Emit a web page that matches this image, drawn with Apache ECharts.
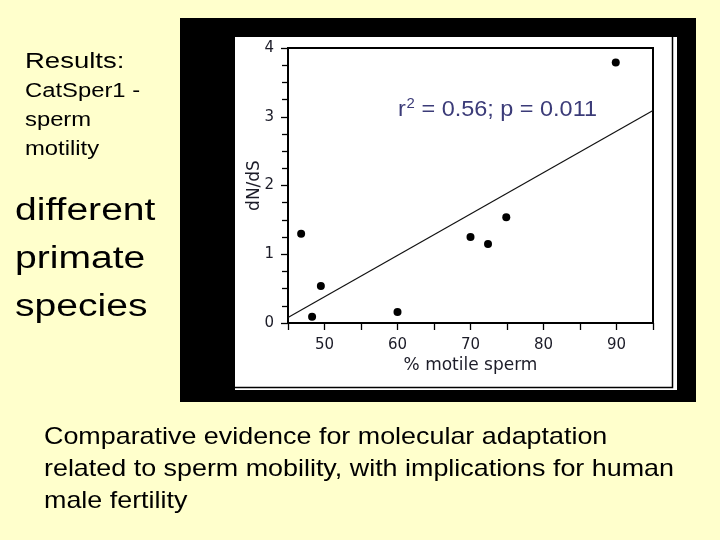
<!DOCTYPE html>
<html lang="en">
<head>
    <meta charset="UTF-8">
    <title>CatSper1 - sperm motility</title>
    <script src="https://cdn.jsdelivr.net/npm/echarts@6/dist/echarts.min.js"></script>
    <style>
        body { margin: 0; background-color: #FFFFCC; }
    </style>
</head>
<body>

<div id="main" style="width: 720px;height: 540px;"></div>

<script type="text/javascript">

    // % motile sperm vs dN/dS, one point per primate species
    var motility = [46.8, 48.3, 49.5, 60.0, 70.0, 72.4, 74.9, 89.9]
    var dnds = [1.30, 0.09, 0.54, 0.16, 1.25, 1.15, 1.54, 3.79]

    // regression line, read at both ends of the x axis
    var fitX = [45, 95]
    var fitY = [0.08, 3.09]

    var xLabels = [50, 60, 70, 80, 90]

    var leftSmall = ['Results:', 'CatSper1 -', 'sperm', 'motility']
    var leftBig = ['different', 'primate', 'species']
    var caption = [
        'Comparative evidence for molecular adaptation',
        'related to sperm mobility, with implications for human',
        'male fertility'
    ]

    var points = motility.map(function (x, i) { return [x, dnds[i]] })
    var fitLine = fitX.map(function (x, i) { return [x, fitY[i]] })

    var slideFont = '"Liberation Sans", Arial, sans-serif'
    var plotFont = '"DejaVu Sans", Verdana, sans-serif'

    function textEl(str, x, y, size, sx, color) {
        return {
            type: 'text', x: x, y: y, scaleX: sx, z: 100,
            style: {
                text: str, x: 0, y: 0,
                fontFamily: slideFont, fontSize: size,
                fill: color || '#000',
                align: 'left', verticalAlign: 'middle'
            }
        }
    }

    var graphics = [
        // black frame and the white picture inside it
        { type: 'rect', z: -10, shape: { x: 180, y: 18, width: 516, height: 384 }, style: { fill: '#000' } },
        { type: 'rect', z: -9, shape: { x: 235, y: 37, width: 442, height: 353 }, style: { fill: '#fff' } },
        { type: 'polyline', z: -8, shape: { points: [[235, 387.5], [672.5, 387.5], [672.5, 37]] },
            style: { stroke: '#000', lineWidth: 1.5, fill: null } }
    ]

    var smallY = [61.5, 91.3, 120, 149]
    leftSmall.forEach(function (s, i) {
        graphics.push(textEl(s, 25, smallY[i], i === 0 ? 22 : 20, i === 0 ? 1.25 : 1.19))
    })
    var bigY = [211, 259, 307]
    leftBig.forEach(function (s, i) {
        graphics.push(textEl(s, 15, bigY[i], 31, 1.26))
    })
    var capY = [437.3, 469.3, 501.3]
    caption.forEach(function (s, i) {
        graphics.push(textEl(s, 44, capY[i], 24, 1.12))
    })

    // r² annotation
    var annColor = '#3b3b78'
    graphics.push(textEl('r', 398, 110, 22, 1.065, annColor))
    graphics.push(textEl('2', 406.5, 104, 14, 1.065, annColor))
    graphics.push(textEl(' = 0.56; p = 0.011', 415, 110, 22, 1.065, annColor))

    var myChart = echarts.init(document.getElementById('main'));

    var axisText = { fontFamily: plotFont, fontSize: 15, color: '#1c1c28' }

    var option = {
        backgroundColor: '#FFFFCC',
        animation: false,
        graphic: graphics,
        grid: {
            left: 288, top: 48, width: 365, height: 275,
            show: true, borderColor: '#000', borderWidth: 2,
            backgroundColor: 'transparent'
        },
        xAxis: {
            type: 'value', min: 45, max: 95, interval: 5,
            name: '% motile sperm', nameLocation: 'middle', nameGap: 34,
            nameMoveOverlap: false,
            nameTextStyle: { fontFamily: plotFont, fontSize: 17, color: '#1c1c28' },
            axisLine: { onZero: false, lineStyle: { color: '#000', width: 2 } },
            axisTick: { length: 7, lineStyle: { color: '#000', width: 1.3 } },
            axisLabel: Object.assign({
                margin: 15,
                formatter: function (v) { return xLabels.indexOf(v) >= 0 ? String(v) : '' }
            }, axisText),
            splitLine: { show: false }
        },
        yAxis: {
            type: 'value', min: 0, max: 4, interval: 1,
            name: 'dN/dS', nameLocation: 'middle', nameGap: 25,
            nameMoveOverlap: false,
            nameTextStyle: { fontFamily: plotFont, fontSize: 17, color: '#1c1c28' },
            axisLine: { show: true, lineStyle: { color: '#000', width: 2 } },
            axisTick: { show: true, length: 7, lineStyle: { color: '#000', width: 1.3 } },
            minorTick: { show: true, splitNumber: 4, length: 6, lineStyle: { color: '#000', width: 1.3 } },
            axisLabel: Object.assign({ margin: 14 }, axisText),
            splitLine: { show: false }
        },
        series: [
            {
                name: 'fit',
                type: 'line',
                data: fitLine,
                showSymbol: false,
                lineStyle: { color: '#111', width: 1.2 },
                z: 3
            },
            {
                name: 'species',
                type: 'scatter',
                data: points,
                symbolSize: 8,
                itemStyle: { color: '#000', opacity: 1 },
                z: 4
            }
        ]
    };

    myChart.setOption(option);

</script>

</body>
</html>
